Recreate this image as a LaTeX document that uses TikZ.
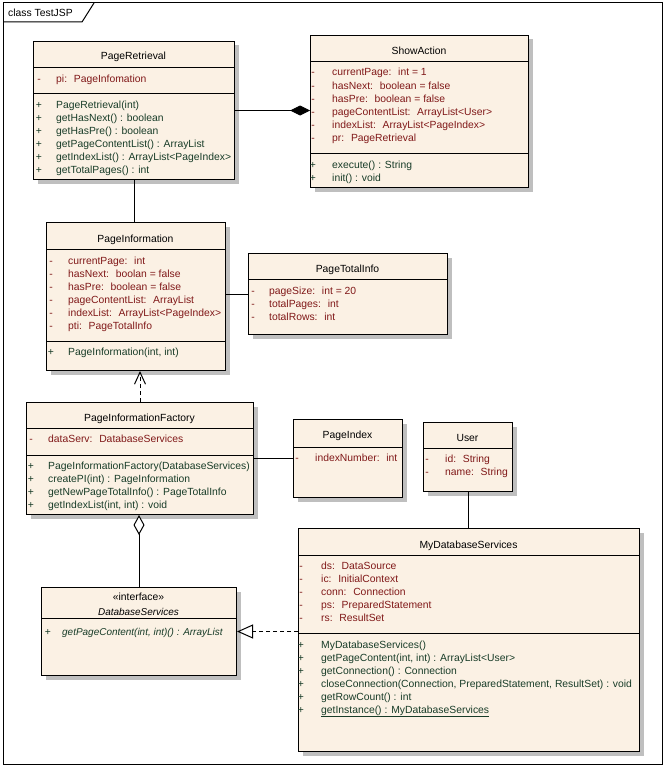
\documentclass[tikz,border=0pt]{standalone}
\usepackage{fontspec}
\setmainfont{Liberation Sans}
\usepackage{tikz}
\usetikzlibrary{arrows.meta,shadows}

\definecolor{classfill}{RGB}{251,241,228}
\definecolor{attrcol}{RGB}{128,24,24}
\definecolor{opcol}{RGB}{24,60,40}

\begin{document}
\begin{tikzpicture}[
    x=1bp, y=-1bp,
    font=\fontsize{10.4}{13}\selectfont,
    cls/.style={draw, line width=1bp, fill=classfill, anchor=north west, inner sep=0pt,
      drop shadow={shadow xshift=4bp, shadow yshift=-4bp, fill=black!25, opacity=1}},
    sep/.style={line width=1bp},
    title/.style={anchor=base, inner sep=0pt},
    attr/.style={anchor=base west, inner sep=0pt, text=attrcol},
    oper/.style={anchor=base west, inner sep=0pt, text=opcol},
    priv/.style={anchor=base, inner sep=0pt, text=attrcol},
    publ/.style={anchor=base, inner sep=0pt, text=opcol},
    assoc/.style={line width=1bp},
    compo/.style={line width=1bp, -{Diamond[length=20bp, width=10bp]}},
    aggr/.style={line width=1bp, -{Diamond[open, fill=white, length=20bp, width=11bp]}},
    depend/.style={line width=1bp, dash pattern=on 4bp off 3bp, -{Straight Barb[length=12bp, width=11bp]}},
    realize/.style={line width=1bp, dash pattern=on 4bp off 3bp, -{Triangle[open, fill=white, length=16bp, width=14bp]}}
  ]
  \useasboundingbox (0,0) rectangle (665,768);
  % Draw the frame.
  \draw[line width=1bp] (3,3) rectangle (662,764);
  \draw[line width=1bp] (3,22) -- (82,22) -- (94,3);
  \node[anchor=base west, inner sep=0pt] (frame-label) at (8,17) {class TestJSP};

  % PageRetrieval
  \node[cls, minimum width=201bp, minimum height=138bp] (pr) at (33,41) {};
  \draw[sep] (33,68) -- (234,68) (33,93) -- (234,93);
  \node[title] (pr-t) at (133.5,60) {PageRetrieval};
  \node[priv] (pr-m1) at (39,82) {-};
  \node[attr] (pr-a1) at (56,82) {pi:~ PageInfomation};
  \foreach \txt [count=\i] in {PageRetrieval(int), getHasNext() : boolean, getHasPre() : boolean,
      getPageContentList() : ArrayList, getIndexList() : ArrayList<PageIndex>, getTotalPages() : int}
    {\node[publ] (pr-p\i) at (39,95+13*\i) {+}; \node[oper] (pr-o\i) at (56,95+13*\i) {\txt};}

  % ShowAction
  \node[cls, minimum width=218bp, minimum height=152bp] (sa) at (310,35) {};
  \draw[sep] (310,62) -- (528,62) (310,153) -- (528,153);
  \node[title] (sa-t) at (419,55) {ShowAction};
  \foreach \txt [count=\i] in {currentPage:~ int = 1, hasNext:~ boolean = false, hasPre:~ boolean = false,
      pageContentList:~ ArrayList<User>, indexList:~ ArrayList<PageIndex>, pr:~ PageRetrieval}
    {\node[priv] (sa-m\i) at (313,63+13*\i) {-}; \node[attr] (sa-a\i) at (332,63+13*\i) {\txt};}
  \foreach \txt [count=\i] in {execute() : String, init() : void}
    {\node[publ] (sa-p\i) at (313,155+13*\i) {+}; \node[oper] (sa-o\i) at (332,155+13*\i) {\txt};}

  % PageInformation
  \node[cls, minimum width=179bp, minimum height=148bp] (pi) at (46,222) {};
  \draw[sep] (46,249) -- (225,249) (46,341) -- (225,341);
  \node[title] (pi-t) at (135.5,242) {PageInformation};
  \foreach \txt [count=\i] in {currentPage:~ int, hasNext:~ boolan = false, hasPre:~ boolean = false,
      pageContentList:~ ArrayList, indexList:~ ArrayList<PageIndex>, pti:~ PageTotalInfo}
    {\node[priv] (pi-m\i) at (51,251+13*\i) {-}; \node[attr] (pi-a\i) at (68,251+13*\i) {\txt};}
  \node[publ] (pi-p1) at (51,355) {+};
  \node[oper] (pi-o1) at (68,355) {PageInformation(int, int)};

  % PageTotalInfo
  \node[cls, minimum width=199bp, minimum height=81bp] (pt) at (248,253) {};
  \draw[sep] (248,279) -- (447,279);
  \node[title] (pt-t) at (347.5,272) {PageTotalInfo};
  \foreach \txt [count=\i] in {pageSize:~ int = 20, totalPages:~ int, totalRows:~ int}
    {\node[priv] (pt-m\i) at (253,281+13*\i) {-}; \node[attr] (pt-a\i) at (269,281+13*\i) {\txt};}

  % PageInformationFactory
  \node[cls, minimum width=227bp, minimum height=112bp] (pf) at (26,402) {};
  \draw[sep] (26,428) -- (253,428) (26,455) -- (253,455);
  \node[title] (pf-t) at (139.5,421) {PageInformationFactory};
  \node[priv] (pf-m1) at (31,442) {-};
  \node[attr] (pf-a1) at (48,442) {dataServ:~ DatabaseServices};
  \foreach \txt [count=\i] in {PageInformationFactory(DatabaseServices), createPI(int) : PageInformation,
      getNewPageTotalInfo() : PageTotalInfo, {getIndexList(int, int) : void}}
    {\node[publ] (pf-p\i) at (31,456+13*\i) {+}; \node[oper] (pf-o\i) at (48,456+13*\i) {\txt};}

  % PageIndex
  \node[cls, minimum width=109bp, minimum height=78bp] (px) at (293,419) {};
  \draw[sep] (293,447) -- (402,447);
  \node[title] (px-t) at (347.5,438) {PageIndex};
  \node[priv] (px-m1) at (297,461) {-};
  \node[attr] (px-a1) at (315,461) {indexNumber:~ int};

  % User
  \node[cls, minimum width=89bp, minimum height=69bp] (us) at (423,422) {};
  \draw[sep] (423,448) -- (512,448);
  \node[title] (us-t) at (467.5,441) {User};
  \foreach \txt [count=\i] in {id:~ String, name:~ String}
    {\node[priv] (us-m\i) at (427,449+13*\i) {-}; \node[attr] (us-a\i) at (445,449+13*\i) {\txt};}

  % DatabaseServices
  \node[cls, minimum width=195bp, minimum height=88bp] (ds) at (41,587) {};
  \draw[sep] (41,618) -- (236,618);
  \node[title] (ds-s) at (138.5,600) {«interface»};
  \node[title, font=\itshape] (ds-t) at (138.5,615) {DatabaseServices};
  \node[publ] (ds-p1) at (48,635) {+};
  \node[oper, font=\itshape] (ds-o1) at (62,635) {getPageContent(int, int)() : ArrayList};

  % MyDatabaseServices
  \node[cls, minimum width=341bp, minimum height=223bp] (md) at (298,528) {};
  \draw[sep] (298,555) -- (639,555) (298,633) -- (639,633);
  \node[title] (md-t) at (468.5,548) {MyDatabaseServices};
  \foreach \txt [count=\i] in {ds:~ DataSource, ic:~ InitialContext, conn:~ Connection,
      ps:~ PreparedStatement, rs:~ ResultSet}
    {\node[priv] (md-m\i) at (301,556+13*\i) {-}; \node[attr] (md-a\i) at (321,556+13*\i) {\txt};}
  \foreach \txt [count=\i] in {MyDatabaseServices(), {getPageContent(int, int) : ArrayList<User>},
      getConnection() : Connection, {closeConnection(Connection, PreparedStatement, ResultSet) : void},
      getRowCount() : int, \underline{getInstance() : MyDatabaseServices}}
    {\node[publ] (md-p\i) at (301,635+13*\i) {+}; \node[oper] (md-o\i) at (321,635+13*\i) {\txt};}

  % Draw the relations.
  \draw[compo] (pr.east) -- (pr.east -| sa.west);
  \draw[assoc] (pr.south) -- (pr.south |- pi.north);
  \draw[assoc] (pt.west) -- (pt.west -| pi.east);
  \draw[depend] (pf.north) -- (pf.north |- pi.south);
  \draw[assoc] (pf.east) -- (pf.east -| px.west);
  \draw[assoc] (us.south) -- (us.south |- md.north);
  \draw[aggr] (ds.north) -- (ds.north |- pf.south);
  \draw[realize] (ds.east -| md.west) -- (ds.east);
\end{tikzpicture}
\end{document}
